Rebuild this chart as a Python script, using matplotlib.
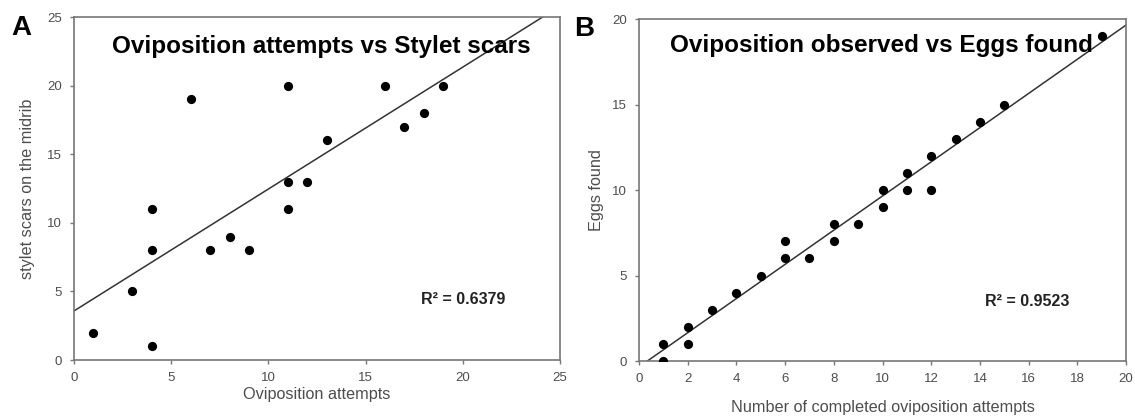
import numpy as np
import matplotlib
matplotlib.use("Agg")
import matplotlib.pyplot as plt

plt.rcParams['font.family'] = ['Liberation Sans', 'DejaVu Sans']

# Panel A data
attempts_a = [1, 3, 4, 4, 4, 6, 7, 8, 9, 11, 11, 11, 12, 13, 16, 17, 18, 19]
scars_a = [2, 5, 1, 8, 11, 19, 8, 9, 8, 20, 13, 11, 13, 16, 20, 17, 18, 20]
r2_a = "R² = 0.6379"
title_a = "Oviposition attempts vs Stylet scars"

# Panel B data
completed_b = [1, 1, 2, 2, 3, 4, 5, 6, 6, 7, 8, 8, 9, 10, 10, 11, 11, 12, 12, 13, 14, 15, 19]
eggs_b = [0, 1, 1, 2, 3, 4, 5, 6, 7, 6, 7, 8, 8, 9, 10, 10, 11, 10, 12, 13, 14, 15, 19]
r2_b = "R² = 0.9523"
title_b = "Oviposition observed vs Eggs found"

fig = plt.figure(figsize=(11.35, 4.19), dpi=100)
axA = fig.add_axes([0.0652, 0.1408, 0.4282, 0.8186])
axB = fig.add_axes([0.5630, 0.1384, 0.4291, 0.8162])

gray = '#4d4d4d'
spine_gray = '#777777'

def style(ax):
    for s in ['left', 'bottom', 'top', 'right']:
        ax.spines[s].set_color(spine_gray)
        ax.spines[s].set_linewidth(1.2)
    ax.tick_params(direction='out', length=3, width=1.0, colors=spine_gray,
                   labelsize=9.5, labelcolor=gray, pad=5.5, top=False, right=False)

def fit_line(ax, x, y, xlim):
    m, b = np.polyfit(x, y, 1)
    xs = np.array(xlim, dtype=float)
    ax.plot(xs, m * xs + b, color='#333333', lw=1.1, zorder=2, clip_on=True)

# Panel A
axA.scatter(attempts_a, scars_a, s=44, color='black', zorder=3, linewidths=0)
fit_line(axA, attempts_a, scars_a, (0, 25))
axA.set_xlim(0, 25)
axA.set_ylim(0, 25)
axA.set_xticks(range(0, 26, 5))
axA.set_yticks(range(0, 26, 5))
style(axA)
axA.set_xlabel("Oviposition attempts", fontsize=11.7, color=gray, labelpad=2)
axA.set_ylabel("stylet scars on the midrib", fontsize=11.7, color=gray, labelpad=9)
axA.text(0.508, 0.913, title_a, transform=axA.transAxes, ha='center', va='center',
         fontsize=17.5, fontweight='bold')
axA.text(0.80, 0.175, r2_a, transform=axA.transAxes, ha='center', va='center',
         fontsize=11.5, fontweight='bold', color='#222222')
fig.text(0.019, 0.934, "A", fontsize=20, fontweight='bold', ha='center', va='center')

# Panel B
axB.scatter(completed_b, eggs_b, s=44, color='black', zorder=3, linewidths=0)
fit_line(axB, completed_b, eggs_b, (0, 20))
axB.set_xlim(0, 20)
axB.set_ylim(0, 20)
axB.set_xticks(range(0, 21, 2))
axB.set_yticks(range(0, 21, 5))
style(axB)
axB.set_xlabel("Number of completed oviposition attempts", fontsize=11.7, color=gray, labelpad=11)
axB.set_ylabel("Eggs found", fontsize=11.7, color=gray, labelpad=6)
axB.text(0.497, 0.924, title_b, transform=axB.transAxes, ha='center', va='center',
         fontsize=17.5, fontweight='bold')
axB.text(0.797, 0.175, r2_b, transform=axB.transAxes, ha='center', va='center',
         fontsize=11.5, fontweight='bold', color='#222222')
fig.text(0.515, 0.931, "B", fontsize=20, fontweight='bold', ha='center', va='center')

fig.savefig("out.png", dpi=100)
